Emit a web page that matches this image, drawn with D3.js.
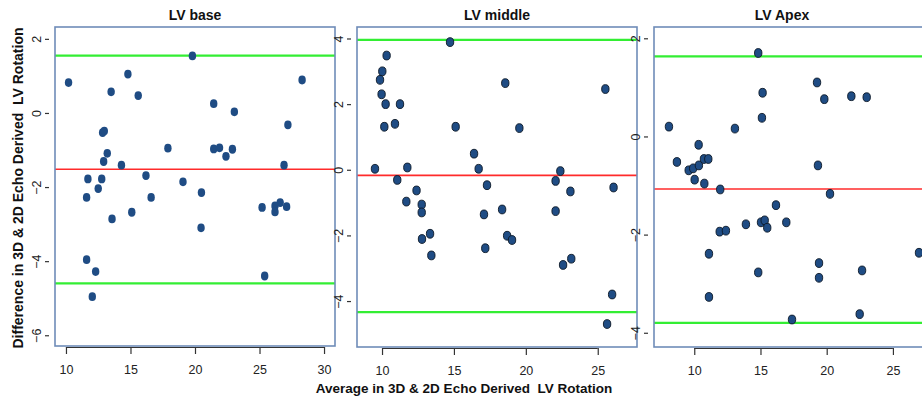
<!DOCTYPE html>
<html>
<head>
<meta charset="utf-8">
<script src="https://cdn.jsdelivr.net/npm/d3@7"></script>
<style>
  body { margin: 0; background: #fff; }
  svg { display: block; font-family: "Liberation Sans", Arial, sans-serif; }
</style>
</head>
<body>
<svg id="chart" width="922" height="403"></svg>
<script>
// LV base: average vs difference
let baseAvg = [10.2, 14.8, 13.5, 15.6, 19.8, 28.3, 21.45, 23.05, 27.2, 12.84, 12.97,
  17.9, 21.45, 21.9, 22.9, 22.4, 13.2, 12.92, 14.3, 26.9, 16.2, 11.7, 12.77, 19.07,
  12.5, 20.5, 11.6, 16.6, 26.6, 13.57, 15.1, 20.47, 25.2, 26.2, 26.2, 27.1,
  11.6, 12.3, 12.04, 25.4];
let baseDiff = [0.82, 1.05, 0.57, 0.47, 1.54, 0.89, 0.25, 0.03, -0.32, -0.53, -0.49,
  -0.95, -0.97, -0.94, -0.98, -1.17, -1.09, -1.31, -1.41, -1.41, -1.69, -1.78, -1.78, -1.86,
  -2.04, -2.15, -2.28, -2.28, -2.42, -2.86, -2.68, -3.1, -2.55, -2.51, -2.67, -2.53,
  -3.96, -4.28, -4.96, -4.4];

// LV middle
let midAvg = [9.51, 10.32, 10.02, 9.86, 9.97, 10.25, 11.25, 10.16, 10.9, 14.73, 11.76,
  11.06, 12.4, 11.69, 15.12, 18.57, 19.55, 16.4, 16.72, 17.3, 25.53, 22.4, 22.07, 23.1,
  26.1, 12.76, 12.76, 12.78, 13.34, 13.43, 17.09, 17.18, 18.35, 18.7, 19.04, 22.07,
  22.59, 23.16, 26.0, 25.65];
let midDiff = [0.03, 3.48, 3.0, 2.74, 2.3, 2.0, 2.0, 1.31, 1.4, 3.89, 0.07,
  -0.31, -0.63, -0.97, 1.31, 2.64, 1.27, 0.49, 0.03, -0.47, 2.46, -0.04, -0.34, -0.66,
  -0.54, -1.06, -1.3, -2.11, -1.95, -2.61, -1.36, -2.39, -1.21, -2.01, -2.14, -1.26,
  -2.9, -2.71, -3.8, -4.7];

// LV Apex
let apexAvg = [8.09, 14.83, 15.16, 15.11, 13.07, 19.27, 19.82, 21.86, 23.02, 10.33,
  8.69, 9.58, 9.92, 10.35, 10.73, 11.06, 10.03, 10.76, 11.96, 19.34, 20.25,
  16.17, 13.9, 11.92, 12.39, 15.04, 15.32, 15.51, 16.95, 11.11, 14.83, 19.42, 19.42,
  22.67, 26.97, 11.11, 17.38, 22.49];
let apexDiff = [0.2, 1.7, 0.89, 0.38, 0.16, 1.1, 0.76, 0.82, 0.8, -0.17,
  -0.52, -0.69, -0.65, -0.59, -0.46, -0.46, -0.88, -0.96, -1.08, -0.59, -1.17,
  -1.4, -1.79, -1.94, -1.92, -1.75, -1.71, -1.86, -1.75, -2.39, -2.77, -2.58, -2.88,
  -2.73, -2.37, -3.27, -3.73, -3.62];

// mean difference and limits of agreement [lower, mean, upper]
let baseLines = [-4.6, -1.52, 1.55];
let midLines = [-4.34, -0.17, 3.96];
let apexLines = [-3.8, -1.07, 1.63];

let titles = ["LV base", "LV middle", "LV Apex"];
let baseXTicks = [10, 15, 20, 25, 30];
let baseYTicks = [-6, -4, -2, 0, 2];
let midXTicks = [10, 15, 20, 25];
let midYTicks = [-4, -2, 0, 2, 4];
let apexXTicks = [10, 15, 20, 25];
let apexYTicks = [-4, -2, 0, 2];

const svg = d3.select("#chart");

const panels = [
  { title: titles[0], avg: baseAvg, diff: baseDiff, lines: baseLines,
    xt: baseXTicks, yt: baseYTicks, left: 55, right: 335, top: 27, bottom: 346,
    xd: [9.15, 30.85], yd: [-6.29, 2.32], outline: false },
  { title: titles[1], avg: midAvg, diff: midDiff, lines: midLines,
    xt: midXTicks, yt: midYTicks, left: 357, right: 637, top: 27, bottom: 347,
    xd: [8.26, 27.73], yd: [-5.4, 4.35], outline: true },
  { title: titles[2], avg: apexAvg, diff: apexDiff, lines: apexLines,
    xt: apexXTicks, yt: apexYTicks, left: 654, right: 930, top: 27, bottom: 347,
    xd: [6.96, 27.8], yd: [-4.29, 2.23], outline: true },
];

panels.forEach(function (p) {
  let x = d3.scaleLinear().domain(p.xd).range([p.left, p.right]);
  let y = d3.scaleLinear().domain(p.yd).range([p.bottom, p.top]);
  let g = svg.append("g");

  // title
  g.append("text")
    .attr("x", (p.left + p.right) / 2 - (p.right > 922 ? 10 : 0))
    .attr("y", 20)
    .attr("text-anchor", "middle")
    .attr("font-size", 14)
    .attr("font-weight", "bold")
    .attr("fill", "#111")
    .text(p.title);

  // x axis (R style: line only between first and last tick)
  let xa = g.append("g")
    .attr("transform", "translate(0," + (p.bottom + 1) + ")")
    .call(d3.axisBottom(x).tickValues(p.xt).tickSize(7).tickPadding(11).tickFormat(d3.format("d")));
  xa.select(".domain").remove();
  xa.selectAll("line").attr("stroke", "#333").attr("stroke-width", 1.2);
  xa.selectAll("text").attr("font-size", 12.5).attr("fill", "#222").attr("font-family", "Liberation Sans, Arial, sans-serif");
  xa.append("line")
    .attr("x1", x(p.xt[0])).attr("x2", x(p.xt[p.xt.length - 1]))
    .attr("y1", 0.5).attr("y2", 0.5)
    .attr("stroke", "#333").attr("stroke-width", 1.2);

  // y axis, offset from the box, labels parallel to axis
  let ya = g.append("g")
    .attr("transform", "translate(" + (p.left - 6) + ",0)")
    .call(d3.axisLeft(y).tickValues(p.yt).tickSize(4).tickPadding(0).tickFormat(d3.format("d")));
  ya.select(".domain").remove();
  ya.selectAll("line").attr("stroke", "#333").attr("stroke-width", 1.2);
  ya.selectAll(".tick text")
    .attr("font-size", 12.5)
    .attr("fill", "#222")
    .attr("font-family", "Liberation Sans, Arial, sans-serif")
    .attr("x", null).attr("dy", null)
    .attr("text-anchor", "middle")
    .attr("transform", "translate(-8,0) rotate(-90)")
    .attr("y", 0);

  // limit of agreement lines
  g.selectAll("line.loa")
    .data(p.lines)
    .enter()
    .append("line")
    .attr("class", "loa")
    .attr("x1", p.left).attr("x2", p.right)
    .attr("y1", function (d) { return y(d); })
    .attr("y2", function (d) { return y(d); })
    .attr("stroke", function (d, i) { return i === 1 ? "#ff2b2b" : "#33ee33"; })
    .attr("stroke-width", function (d, i) { return i === 1 ? 1.6 : 2.2; });

  // points
  g.selectAll("ellipse")
    .data(p.avg.map(function (a, i) { return [a, p.diff[i]]; }))
    .enter()
    .append("ellipse")
    .attr("cx", function (d) { return x(d[0]); })
    .attr("cy", function (d) { return y(d[1]); })
    .attr("rx", p.outline ? 3.7 : 3.7)
    .attr("ry", p.outline ? 4.4 : 4.4)
    .attr("fill", "#1f4c84")
    .attr("stroke", p.outline ? "#0b1726" : "none")
    .attr("stroke-width", 0.9);

  // box
  g.append("rect")
    .attr("x", p.left).attr("y", p.top)
    .attr("width", p.right - p.left).attr("height", p.bottom - p.top)
    .attr("fill", "none")
    .attr("stroke", "#6f8cb8")
    .attr("stroke-width", 1.6);
});

// axis titles
svg.append("text")
  .attr("x", 464).attr("y", 393)
  .attr("text-anchor", "middle")
  .attr("font-size", 13.5)
  .attr("font-weight", "bold")
  .attr("fill", "#111")
  .style("white-space", "pre")
  .text("Average in 3D & 2D Echo Derived  LV Rotation");

svg.append("text")
  .attr("transform", "translate(23,188) rotate(-90)")
  .attr("text-anchor", "middle")
  .attr("font-size", 14)
  .attr("font-weight", "bold")
  .attr("fill", "#111")
  .style("white-space", "pre")
  .text("Difference in 3D & 2D Echo Derived  LV Rotation");
</script>
</body>
</html>
